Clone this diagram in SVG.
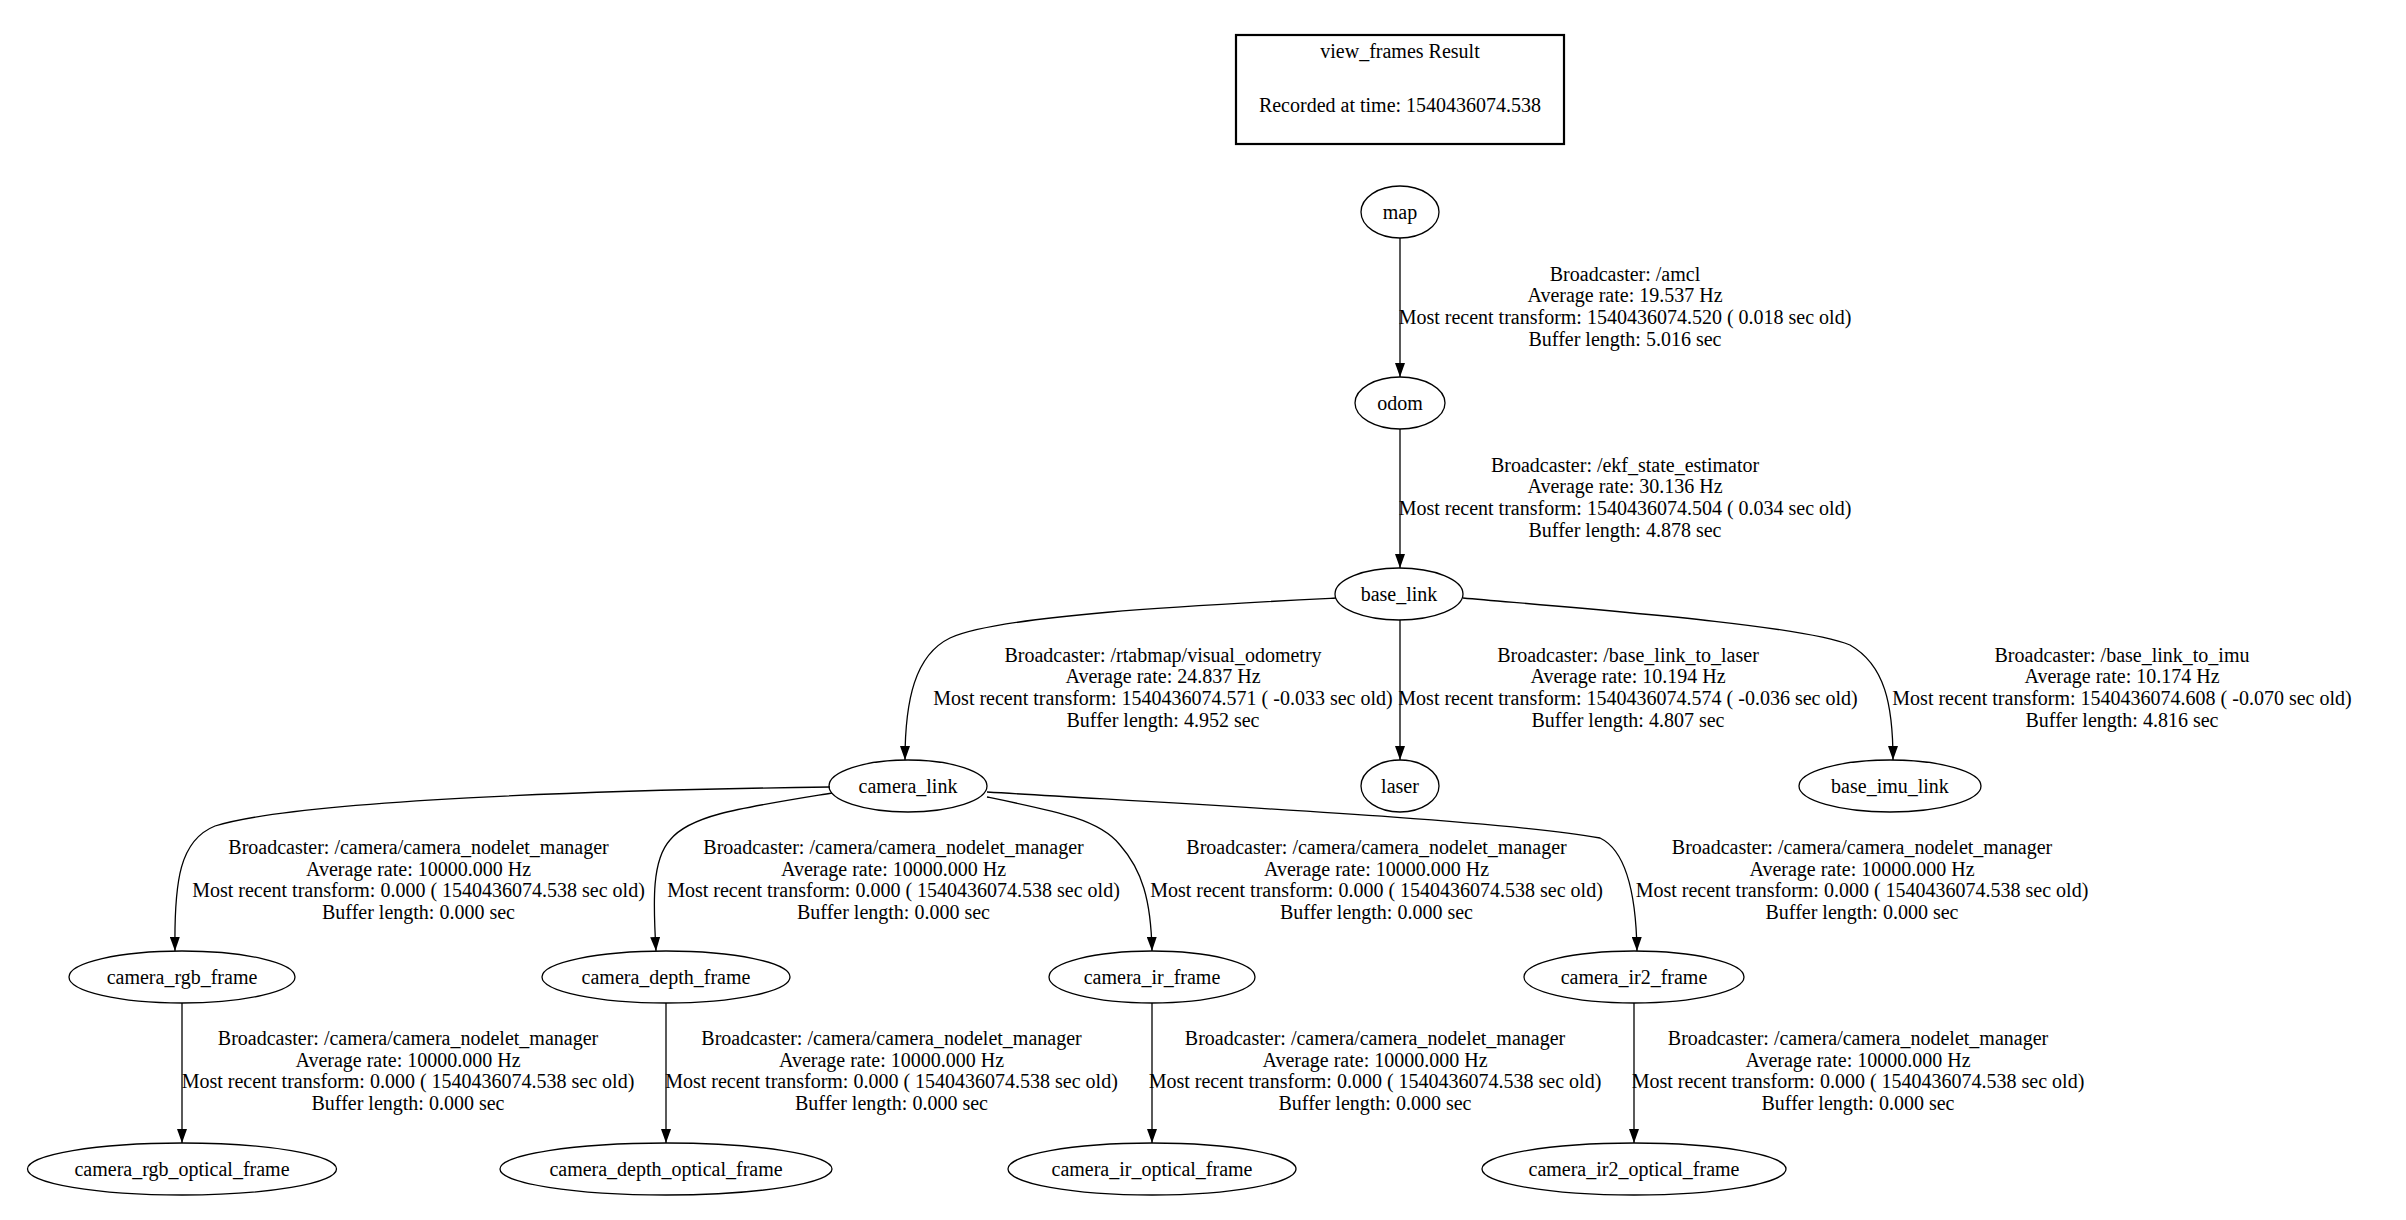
<svg xmlns="http://www.w3.org/2000/svg" width="2406" height="1220" viewBox="0 0 2406 1220">
<style>
text{font-family:"Liberation Serif","Times New Roman",Times,serif;font-size:20px;fill:#000;text-anchor:middle}
.node ellipse{fill:none;stroke:#000;stroke-width:1.3}
.edge path,.edge line{fill:none;stroke:#000;stroke-width:1.3}
.edge polygon{fill:#000;stroke:#000;stroke-width:1.3}
</style>
<defs>
<marker id="ah" viewBox="0 0 14 10" refX="14" refY="5" markerWidth="14" markerHeight="10" markerUnits="userSpaceOnUse" orient="auto">
<path d="M0,0 L14,5 L0,10 Z" fill="#000"/>
</marker>
</defs>
<rect width="2406" height="1220" fill="#fff"/>
<g id="title">
<rect x="1236" y="35" width="328" height="109" fill="none" stroke="#000" stroke-width="2.2"/>
<text x="1400" y="57.7">view_frames Result</text>
<text x="1400" y="111.7">Recorded at time: 1540436074.538</text>
</g>
<g id="connectors" class="edge">
<path d="M1400,238 L1400,377" marker-end="url(#ah)"/>
<path d="M1400,429 L1400,568" marker-end="url(#ah)"/>
<path d="M1336,598 C1200,605 1000,615 950,638 C915,655 905,700 905,760" marker-end="url(#ah)"/>
<path d="M1400,620 L1400,760" marker-end="url(#ah)"/>
<path d="M1463,598 C1600,610 1800,625 1850,645 C1885,665 1893,705 1893,760" marker-end="url(#ah)"/>
<path d="M830,787 C600,790 300,800 215,826 C180,840 174,880 175,951" marker-end="url(#ah)"/>
<path d="M832,793 C740,808 690,815 670,840 C652,860 653,900 656,951" marker-end="url(#ah)"/>
<path d="M987,797 C1060,812 1100,820 1120,845 C1142,870 1151,900 1152,951" marker-end="url(#ah)"/>
<path d="M987,792 C1200,805 1500,820 1600,838 C1625,850 1636,890 1637,951" marker-end="url(#ah)"/>
<path d="M182,1003 L182,1143" marker-end="url(#ah)"/>
<path d="M666,1003 L666,1143" marker-end="url(#ah)"/>
<path d="M1152,1003 L1152,1143" marker-end="url(#ah)"/>
<path d="M1634,1003 L1634,1143" marker-end="url(#ah)"/>
</g>
<g id="edge-labels">
<text x="1625" y="280.7">Broadcaster: /amcl</text>
<text x="1625" y="302.4">Average rate: 19.537 Hz</text>
<text x="1625" y="324.1">Most recent transform: 1540436074.520 ( 0.018 sec old)</text>
<text x="1625" y="345.8">Buffer length: 5.016 sec</text>

<text x="1625" y="471.7">Broadcaster: /ekf_state_estimator</text>
<text x="1625" y="493.4">Average rate: 30.136 Hz</text>
<text x="1625" y="515.1">Most recent transform: 1540436074.504 ( 0.034 sec old)</text>
<text x="1625" y="536.8">Buffer length: 4.878 sec</text>

<text x="1163" y="661.7">Broadcaster: /rtabmap/visual_odometry</text>
<text x="1163" y="683.4">Average rate: 24.837 Hz</text>
<text x="1163" y="705.1">Most recent transform: 1540436074.571 ( -0.033 sec old)</text>
<text x="1163" y="726.8">Buffer length: 4.952 sec</text>

<text x="1628" y="661.7">Broadcaster: /base_link_to_laser</text>
<text x="1628" y="683.4">Average rate: 10.194 Hz</text>
<text x="1628" y="705.1">Most recent transform: 1540436074.574 ( -0.036 sec old)</text>
<text x="1628" y="726.8">Buffer length: 4.807 sec</text>

<text x="2122" y="661.7">Broadcaster: /base_link_to_imu</text>
<text x="2122" y="683.4">Average rate: 10.174 Hz</text>
<text x="2122" y="705.1">Most recent transform: 1540436074.608 ( -0.070 sec old)</text>
<text x="2122" y="726.8">Buffer length: 4.816 sec</text>

<text x="418.5" y="854">Broadcaster: /camera/camera_nodelet_manager</text>
<text x="418.5" y="875.7">Average rate: 10000.000 Hz</text>
<text x="418.5" y="897.4">Most recent transform: 0.000 ( 1540436074.538 sec old)</text>
<text x="418.5" y="919.1">Buffer length: 0.000 sec</text>

<text x="893.5" y="854">Broadcaster: /camera/camera_nodelet_manager</text>
<text x="893.5" y="875.7">Average rate: 10000.000 Hz</text>
<text x="893.5" y="897.4">Most recent transform: 0.000 ( 1540436074.538 sec old)</text>
<text x="893.5" y="919.1">Buffer length: 0.000 sec</text>

<text x="1376.5" y="854">Broadcaster: /camera/camera_nodelet_manager</text>
<text x="1376.5" y="875.7">Average rate: 10000.000 Hz</text>
<text x="1376.5" y="897.4">Most recent transform: 0.000 ( 1540436074.538 sec old)</text>
<text x="1376.5" y="919.1">Buffer length: 0.000 sec</text>

<text x="1862" y="854">Broadcaster: /camera/camera_nodelet_manager</text>
<text x="1862" y="875.7">Average rate: 10000.000 Hz</text>
<text x="1862" y="897.4">Most recent transform: 0.000 ( 1540436074.538 sec old)</text>
<text x="1862" y="919.1">Buffer length: 0.000 sec</text>

<text x="408" y="1045">Broadcaster: /camera/camera_nodelet_manager</text>
<text x="408" y="1066.7">Average rate: 10000.000 Hz</text>
<text x="408" y="1088.4">Most recent transform: 0.000 ( 1540436074.538 sec old)</text>
<text x="408" y="1110.1">Buffer length: 0.000 sec</text>

<text x="891.5" y="1045">Broadcaster: /camera/camera_nodelet_manager</text>
<text x="891.5" y="1066.7">Average rate: 10000.000 Hz</text>
<text x="891.5" y="1088.4">Most recent transform: 0.000 ( 1540436074.538 sec old)</text>
<text x="891.5" y="1110.1">Buffer length: 0.000 sec</text>

<text x="1375" y="1045">Broadcaster: /camera/camera_nodelet_manager</text>
<text x="1375" y="1066.7">Average rate: 10000.000 Hz</text>
<text x="1375" y="1088.4">Most recent transform: 0.000 ( 1540436074.538 sec old)</text>
<text x="1375" y="1110.1">Buffer length: 0.000 sec</text>

<text x="1858" y="1045">Broadcaster: /camera/camera_nodelet_manager</text>
<text x="1858" y="1066.7">Average rate: 10000.000 Hz</text>
<text x="1858" y="1088.4">Most recent transform: 0.000 ( 1540436074.538 sec old)</text>
<text x="1858" y="1110.1">Buffer length: 0.000 sec</text>
</g>
<g id="node-map" class="node"><ellipse cx="1400" cy="212" rx="39" ry="26"/><text x="1400" y="218.5">map</text></g>
<g id="node-odom" class="node"><ellipse cx="1400" cy="403" rx="45" ry="26"/><text x="1400" y="409.5">odom</text></g>
<g id="node-base_link" class="node"><ellipse cx="1399" cy="594" rx="64" ry="26"/><text x="1399" y="600.5">base_link</text></g>
<g id="node-camera_link" class="node"><ellipse cx="908" cy="786" rx="79" ry="26"/><text x="908" y="792.5">camera_link</text></g>
<g id="node-laser" class="node"><ellipse cx="1400" cy="786" rx="39" ry="26"/><text x="1400" y="792.5">laser</text></g>
<g id="node-base_imu_link" class="node"><ellipse cx="1890" cy="786" rx="91" ry="26"/><text x="1890" y="792.5">base_imu_link</text></g>
<g id="node-camera_rgb_frame" class="node"><ellipse cx="182" cy="977" rx="113" ry="26"/><text x="182" y="983.5">camera_rgb_frame</text></g>
<g id="node-camera_depth_frame" class="node"><ellipse cx="666" cy="977" rx="124" ry="26"/><text x="666" y="983.5">camera_depth_frame</text></g>
<g id="node-camera_ir_frame" class="node"><ellipse cx="1152" cy="977" rx="103" ry="26"/><text x="1152" y="983.5">camera_ir_frame</text></g>
<g id="node-camera_ir2_frame" class="node"><ellipse cx="1634" cy="977" rx="110" ry="26"/><text x="1634" y="983.5">camera_ir2_frame</text></g>
<g id="node-camera_rgb_optical_frame" class="node"><ellipse cx="182" cy="1169" rx="154.5" ry="26"/><text x="182" y="1175.5">camera_rgb_optical_frame</text></g>
<g id="node-camera_depth_optical_frame" class="node"><ellipse cx="666" cy="1169" rx="166" ry="26"/><text x="666" y="1175.5">camera_depth_optical_frame</text></g>
<g id="node-camera_ir_optical_frame" class="node"><ellipse cx="1152" cy="1169" rx="144" ry="26"/><text x="1152" y="1175.5">camera_ir_optical_frame</text></g>
<g id="node-camera_ir2_optical_frame" class="node"><ellipse cx="1634" cy="1169" rx="152" ry="26"/><text x="1634" y="1175.5">camera_ir2_optical_frame</text></g>
</svg>
